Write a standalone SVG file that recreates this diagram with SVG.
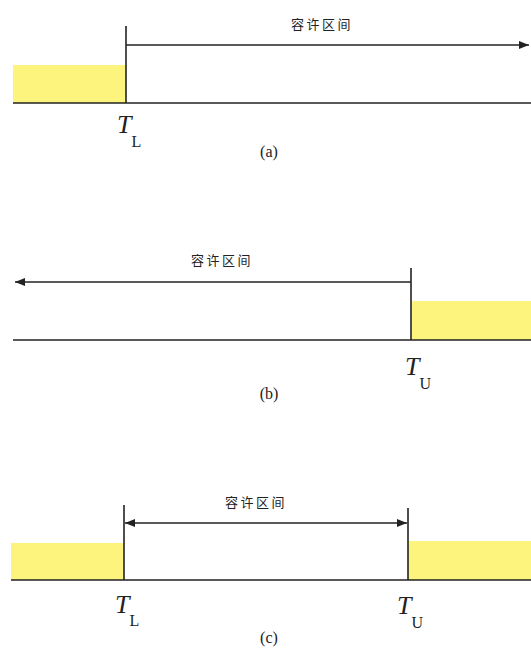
<svg xmlns="http://www.w3.org/2000/svg" width="531" height="648" viewBox="0 0 531 648">
<defs>
<marker id="ah" viewBox="0 0 10 8" refX="10" refY="4" markerWidth="10" markerHeight="8" markerUnits="userSpaceOnUse" orient="auto-start-reverse">
<path d="M0,0 L10,4 L0,8 Z" fill="#222"/>
</marker>
</defs>
<style>
.ln{stroke:#222;stroke-width:1.6;fill:none}
.yl{fill:#fcf47c}
.lbl{font-family:"Noto Sans CJK SC","Noto Sans",sans-serif;font-size:13px;fill:#222;letter-spacing:2.5px}
.T{font-family:"Liberation Serif",serif;font-style:italic;font-size:26px;fill:#222}
.sub{font-family:"Liberation Serif",serif;font-size:16px;fill:#222}
.cap{font-family:"Liberation Serif",serif;font-size:16px;fill:#222}
</style>
<rect width="531" height="648" fill="#fff"/>

<!-- panel a -->
<g id="panel-a">
<rect class="yl" x="13" y="65" width="113" height="38"/>
<line class="ln" x1="13" y1="103" x2="531" y2="103"/>
<line class="ln" x1="126" y1="26" x2="126" y2="103"/>
<text class="lbl" x="322" y="29" text-anchor="middle">容许区间</text>
<text x="117" y="133"><tspan class="T">T</tspan><tspan class="sub" dx="0" dy="14">L</tspan></text>
<text class="cap" x="269" y="157" text-anchor="middle">(a)</text>
</g>

<!-- panel b -->
<g id="panel-b">
<rect class="yl" x="412" y="301" width="119" height="39"/>
<line class="ln" x1="13" y1="340" x2="531" y2="340"/>
<line class="ln" x1="411" y1="268" x2="411" y2="340"/>
<text class="lbl" x="222" y="265" text-anchor="middle">容许区间</text>
<text x="405" y="375"><tspan class="T">T</tspan><tspan class="sub" dx="0" dy="14">U</tspan></text>
<text class="cap" x="269" y="399" text-anchor="middle">(b)</text>
</g>

<!-- panel c -->
<g id="panel-c">
<rect class="yl" x="11" y="543" width="113" height="37"/>
<rect class="yl" x="408" y="541" width="123" height="39"/>
<line class="ln" x1="11" y1="580" x2="531" y2="580"/>
<line class="ln" x1="124" y1="505" x2="124" y2="580"/>
<line class="ln" x1="408" y1="508" x2="408" y2="580"/>
<text class="lbl" x="256" y="507" text-anchor="middle">容许区间</text>
<text x="115" y="613"><tspan class="T">T</tspan><tspan class="sub" dx="0" dy="13">L</tspan></text>
<text x="397" y="614"><tspan class="T">T</tspan><tspan class="sub" dx="0" dy="14">U</tspan></text>
<text class="cap" x="269" y="643" text-anchor="middle">(c)</text>
</g>

<g id="connectors">
<line class="ln" x1="126" y1="45" x2="529" y2="45" marker-end="url(#ah)"/>
<line class="ln" x1="411" y1="282" x2="15" y2="282" marker-end="url(#ah)"/>
<line class="ln" x1="125" y1="523" x2="407" y2="523" marker-start="url(#ah)" marker-end="url(#ah)"/>
</g>
</svg>
